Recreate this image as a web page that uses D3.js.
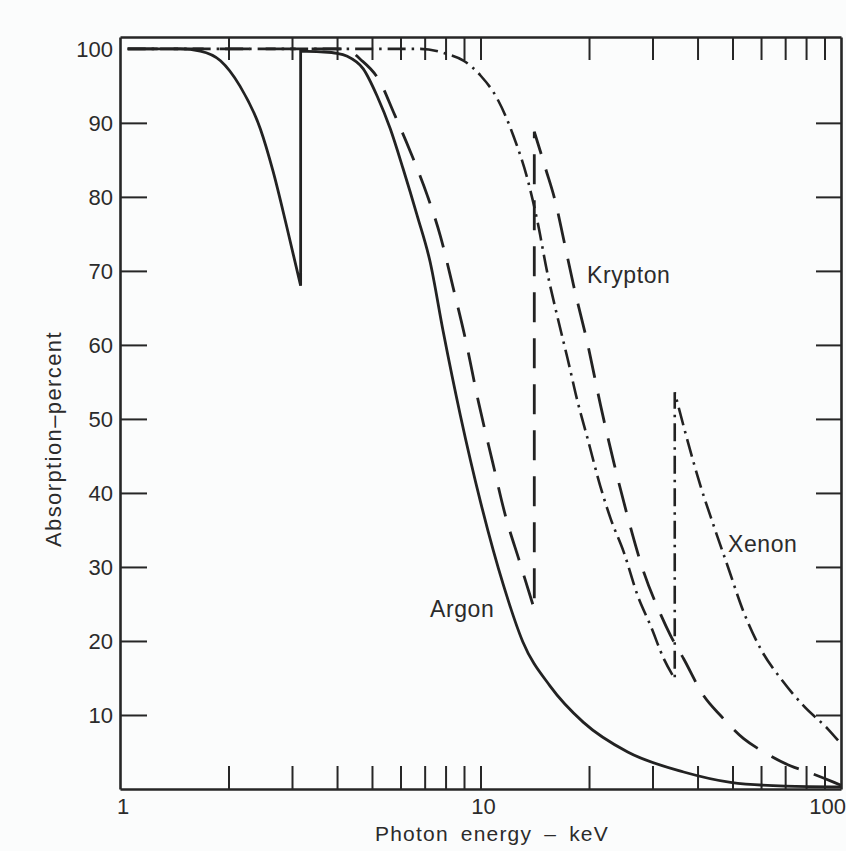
<!DOCTYPE html>
<html>
<head>
<meta charset="utf-8">
<script src="https://cdn.jsdelivr.net/npm/d3@7"></script>
<style>
  body { margin: 0; background: #fbfcfc; }
  svg text { font-family: "Liberation Sans", Arial, sans-serif; fill: #2b2b2b; }
</style>
</head>
<body>
<svg id="chart" width="846" height="851"></svg>
<script>
// photon energy (keV) and absorption (%)
// a repeated energy marks the K-edge jump
const argonE = [1.05, 1.47, 1.67, 1.90, 2.15, 2.45, 2.66, 2.90, 3.17,
  3.17, 3.6, 4.0, 4.27, 4.73, 5.17, 5.62, 6.1, 6.68, 7.25, 7.88, 8.80, 10.0,
  11.6, 13.1, 15.6, 19.3, 25.6, 36.6, 49.4, 70, 100];
const argonV = [100, 100, 99.7, 98.4, 95, 89.2, 83.4, 76, 68,
  99.7, 99.6, 99.4, 99.0, 97.3, 93.6, 89.2, 83.8, 77.4, 71.2, 61.8, 50.4, 38.8,
  27.4, 19.9, 13.9, 9.0, 5.0, 2.3, 0.9, 0.4, 0.3];

const kryptonE = [1.05, 4.22, 4.64, 5.27, 5.73, 6.39, 7.13, 7.74, 8.41, 9.08,
  9.87, 10.8, 11.73, 12.84, 14.1,
  14.1, 15.16, 16.18, 17.0, 18.13, 19.83, 21.54, 23.41, 25.27, 28.37, 31.6,
  33.7, 36.6, 41.6, 46.4, 53.7, 61.1, 72.6, 80.9, 95.7, 100];
const kryptonV = [100, 100, 98.6, 95.5, 91.5, 86.1, 80.1, 74.7, 67.6, 60.8,
  52.3, 44.2, 36.9, 30.7, 24.3,
  88.8, 83.8, 79.1, 74.3, 68.0, 60.1, 51.8, 44.2, 37.8, 29.3, 23.6,
  20.7, 17.6, 12.6, 9.9, 6.8, 5.0, 3.1, 2.3, 0.9, 0.5];

const xenonE = [1.05, 6.81, 8.08, 8.97, 10.0, 11.15, 12.35, 13.5, 14.4, 15.3,
  16.4, 17.45, 18.6, 19.83, 21.5, 22.97, 24.97, 27.3, 29.67, 32.24, 34.58,
  34.58, 37.6, 40.8, 44.4, 48.5, 53.7, 59.9, 68.1, 78.9, 92.0, 100];
const xenonV = [100, 100, 99.3, 98.4, 96.4, 93.2, 88.2, 82.4, 76.6, 69.9,
  63.5, 58.1, 52.3, 47.3, 40.9, 36.5, 32.0, 26.1, 22.0, 17.6, 14.9,
  53.6, 46.9, 40.9, 35.5, 30.1, 23.9, 18.9, 14.9, 11.2, 8.1, 6.1];

const yTicks = [10, 20, 30, 40, 50, 60, 70, 80, 90];
const yLabels = [10, 20, 30, 40, 50, 60, 70, 80, 90, 100];
const xTicks = [2, 3, 4, 5, 6, 7, 8, 9, 10, 20, 30, 40, 50, 60, 70, 80, 90];
const xLabels = [1, 10, 100];

const svg = d3.select("#chart");

const x = d3.scaleLog().domain([1, 100]).range([120, 841]);
const y = d3.scaleLinear().domain([0, 101.6]).range([789, 37]);

// frame with inward ticks on all four sides
function styleAxis(g) {
  g.selectAll("path").attr("stroke", "#262626").attr("stroke-width", 2.6);
  g.selectAll("line").attr("stroke", "#262626").attr("stroke-width", 2);
}
svg.append("g").attr("transform", `translate(0,${y(0)})`)
  .call(d3.axisBottom(x).tickValues(xTicks).tickSize(-23).tickSizeOuter(0).tickFormat(""))
  .call(styleAxis);
svg.append("g").attr("transform", `translate(0,${y(101.6)})`)
  .call(d3.axisTop(x).tickValues(xTicks).tickSize(-23).tickSizeOuter(0).tickFormat(""))
  .call(styleAxis);
svg.append("g").attr("transform", `translate(${x(1)},0)`)
  .call(d3.axisLeft(y).tickValues(yTicks).tickSize(-27).tickSizeOuter(0).tickFormat(""))
  .call(styleAxis);
svg.append("g").attr("transform", `translate(${x(100)},0)`)
  .call(d3.axisRight(y).tickValues(yTicks).tickSize(-25).tickSizeOuter(0).tickFormat(""))
  .call(styleAxis);

// tick labels
svg.append("g").selectAll("text").data(yLabels).join("text")
  .attr("x", x(1) - 7)
  .attr("y", (d) => y(d) + 8)
  .attr("text-anchor", "end")
  .style("font-size", "22px")
  .text((d) => d);

svg.append("g").selectAll("text").data(xLabels).join("text")
  .attr("x", (d, i) => x(d) + (i == xLabels.length - 1 ? 5 : 3))
  .attr("y", y(0) + 25)
  .attr("text-anchor", (d, i) => (i == xLabels.length - 1 ? "end" : "middle"))
  .style("font-size", "22px")
  .text((d) => d);

// axis titles
svg.append("text")
  .attr("x", 375).attr("y", 841)
  .style("font-size", "21px")
  .style("letter-spacing", "1.2px")
  .style("word-spacing", "5px")
  .text("Photon energy – keV");

svg.append("text")
  .attr("transform", "translate(61,439) rotate(-90)")
  .attr("text-anchor", "middle")
  .style("font-size", "22px")
  .style("letter-spacing", "1.4px")
  .text("Absorption–percent");

// curves: split at the K-edge so the jump stays a sharp vertical line
const line = d3.line().curve(d3.curveMonotoneX);
function edgePath(E, V) {
  const segs = [];
  let cur = [];
  E.forEach((e, i) => {
    if (i > 0 && e === E[i - 1]) { segs.push(cur); cur = []; }
    cur.push([x(e), y(V[i])]);
  });
  segs.push(cur);
  return segs.map((s, i) => (i == 0 ? line(s) : "L" + line(s).slice(1))).join("");
}

const curves = [
  { name: "Argon", E: argonE, V: argonV, dash: null, w: 2.8 },
  { name: "Krypton", E: kryptonE, V: kryptonV, dash: "30,16", w: 2.8 },
  { name: "Xenon", E: xenonE, V: xenonV, dash: "18,6,2.5,6", w: 2.6 },
];

svg.append("g").selectAll("path").data(curves).join("path")
  .attr("d", (d) => edgePath(d.E, d.V))
  .attr("fill", "none")
  .attr("stroke", "#222")
  .attr("stroke-width", (d) => d.w)
  .attr("stroke-dasharray", (d) => d.dash)
  .attr("stroke-linejoin", "miter");

// curve labels
const labelPos = { Argon: [430, 617], Krypton: [587, 283], Xenon: [728, 552] };
svg.append("g").selectAll("text").data(curves).join("text")
  .attr("x", (d) => labelPos[d.name][0])
  .attr("y", (d) => labelPos[d.name][1])
  .style("font-size", "23px")
  .style("letter-spacing", "0.6px")
  .text((d) => d.name);
</script>
</body>
</html>
